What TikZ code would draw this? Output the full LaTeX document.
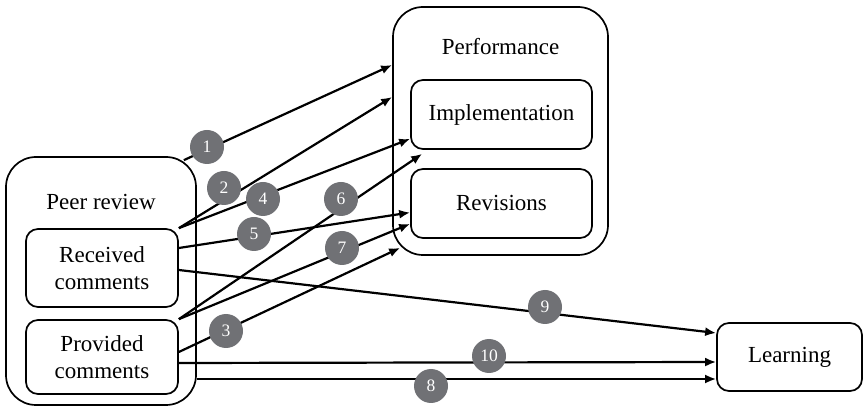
\documentclass[tikz,border=0pt]{standalone}
\usepackage{fontspec}
\setmainfont{Liberation Serif}
\usetikzlibrary{arrows.meta, positioning}
\definecolor{numgray}{RGB}{112,113,117}
\begin{document}
\begin{tikzpicture}[x=1pt, y=1pt, node distance=89pt, line width=1.7pt,
    font=\fontsize{23}{27}\selectfont,
    outer/.style={draw, rounded corners=30pt, minimum width=190pt, minimum height=248pt},
    inner/.style={draw, rounded corners=12pt, align=center, inner sep=0pt},
    num/.style={circle, fill=numgray, text=white, minimum size=34pt, inner sep=0pt, font=\fontsize{17.5}{20}\selectfont},
    link/.style={line width=2.2pt, -{Latex[length=11pt,width=9pt]}}]
    \useasboundingbox (0,0) rectangle (865,407);

    \node (peer) [outer] at (101,126) {};
    \node (peertitle) at (101,205) {Peer review};
    \node (recv) [inner, minimum width=152pt, minimum height=78pt] at (102,139) {Received\\comments};
    \node (prov) [inner, minimum width=152pt, minimum height=74pt, below of=recv] {Provided\\comments};

    \node (perf) [outer, minimum width=215pt] at (500.5,276) {};
    \node (perftitle) at (500.5,360) {Performance};
    \node (impl) [inner, minimum width=181pt, minimum height=69pt] at (501.5,292.5) {Implementation};
    \node (rev) [inner, minimum width=181pt, minimum height=69pt, below of=impl] {Revisions};

    \node (learn) [inner, minimum width=145pt, minimum height=68pt] at (789.5,50) {Learning};

    \draw[link] ([xshift=-13pt,yshift=-4pt]peer.north east) -- ([yshift=66pt]perf.west);
    \draw[link] (recv.north east) -- ([yshift=34pt]perf.west);
    \draw[link] (recv.north east) -- ([yshift=11pt]impl.south west);
    \draw[link] ([yshift=20pt]recv.east) -- ([yshift=-9pt]rev.west);
    \draw[link] (prov.north east) -- ([xshift=12pt,yshift=-4pt]impl.south west);
    \draw[link] (prov.north east) -- ([yshift=15pt]rev.south west);
    \draw[link] ([yshift=5pt]prov.east) -- ([xshift=8pt,yshift=8pt]perf.south west);
    \draw[link] ([yshift=-2pt]recv.east) -- ([yshift=24pt]learn.west);
    \draw[link] ([yshift=-6pt]prov.east) -- ([yshift=-5pt]learn.west);
    \draw[link] ([yshift=-98pt]peer.east) -- ([yshift=-22pt]learn.west);

    \foreach \n/\x/\y in {1/207/260, 2/224/219, 3/226/76, 4/263/208, 5/254/173,
                          6/341/208, 7/342/159, 8/431/21, 9/545/100, 10/489/51}
        \node (n\n) [num] at (\x,\y) {\n};
\end{tikzpicture}
\end{document}
